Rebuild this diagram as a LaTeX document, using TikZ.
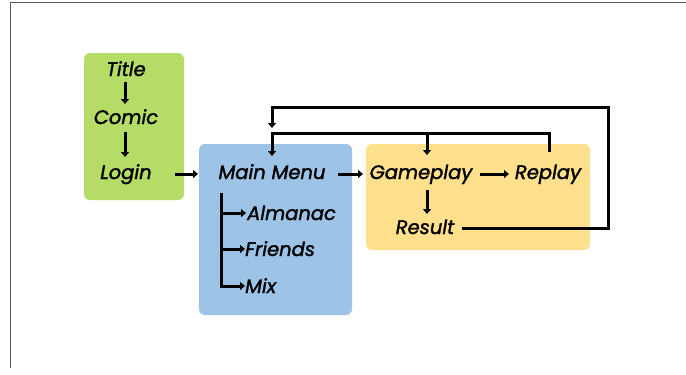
\documentclass[tikz,border=0pt]{standalone}
\usepackage{fontspec}
\newfontfamily\pop{Poppins}[ItalicFeatures={FakeBold=1.6}]
\usetikzlibrary{arrows.meta}
\definecolor{gbox}{HTML}{B5DC66}
\definecolor{bbox}{HTML}{9DC3E6}
\definecolor{ybox}{HTML}{FFE08C}
\begin{document}
\begin{tikzpicture}[x=1pt,y=-1pt,
  lbl/.style={font=\pop\itshape\fontsize{19.5}{19.5}\selectfont, inner sep=0pt, anchor=base},
  panel/.style={rounded corners=6pt, draw=none},
  conn/.style={line width=3pt, -{Triangle[length=5pt,width=8pt]}},
  plain/.style={line width=3pt}]
\useasboundingbox (0,0) rectangle (686,375);
\fill[white] (0,0) rectangle (686,375);
\draw[gray!70!black, line width=0.8pt] (10,368) -- (10,2) -- (686,2);
% panels
\fill[gbox, panel] (84,53) rectangle (184,200);
\fill[bbox, panel] (199,144) rectangle (352,315);
\fill[ybox, panel] (366,144) rectangle (590,250);
% labels
\node[lbl] (title) at (126,76) {Title};
\node[lbl] (comic) at (126,124) {Comic};
\node[lbl] (login) at (126,179) {Login};
\node[lbl] (main) at (272,179) {Main Menu};
\node[lbl, anchor=base west] (alm) at (247,220) {Almanac};
\node[lbl, anchor=base west] (fri) at (245,256) {Friends};
\node[lbl, anchor=base west] (mix) at (245,293) {Mix};
\node[lbl] (game) at (421,179) {Gameplay};
\node[lbl] (replay) at (548,179) {Replay};
\node[lbl] (result) at (425,234) {Result};
% coordinates
\coordinate (t1) at (125,82);
\coordinate (t2) at (125,104);
\coordinate (c1) at (125,132);
\coordinate (c2) at (125,157);
\coordinate (l1) at (175,174);
\coordinate (l2) at (198,174);
\coordinate (m1) at (338,174);
\coordinate (m2) at (363,174);
\coordinate (g1) at (480,174);
\coordinate (g2) at (509,174);
\coordinate (gr1) at (427,190);
\coordinate (gr2) at (427,214);
\coordinate (br) at (221,193);
\coordinate (brA) at (221,213);
\coordinate (brF) at (221,249);
\coordinate (brM) at (221,286);
\coordinate (rs) at (462,228);
\coordinate (ro) at (608,228);
\coordinate (to) at (608,107);
\coordinate (tl) at (272,107);
\coordinate (te) at (272,128);
\coordinate (rp) at (549,152);
\coordinate (ir) at (549,133);
\coordinate (il) at (272,133);
\coordinate (ig) at (427,133);
\coordinate (me) at (272,156);
\coordinate (ge) at (427,155);
% connectors
\draw[conn] (t1) -- (t2);
\draw[conn] (c1) -- (c2);
\draw[conn] (l1) -- (l2);
\draw[conn] (m1) -- (m2);
\draw[conn] (g1) -- (g2);
\draw[conn] (gr1) -- (gr2);
\draw[plain] (br) -- (brM);
\draw[conn] (brA) -- (246,213);
\draw[conn] (brF) -- (245,249);
\draw[conn] ([xshift=-1.5pt]brM) -- (245,286);
\draw[conn, line join=miter] (rs) -- (ro) -- (to) -- (tl) -- (te);
\draw[conn, line join=miter] (rp) -- (ir) -- (il) -- (me);
\draw[conn] (ig) -- (ge);
\end{tikzpicture}
\end{document}
